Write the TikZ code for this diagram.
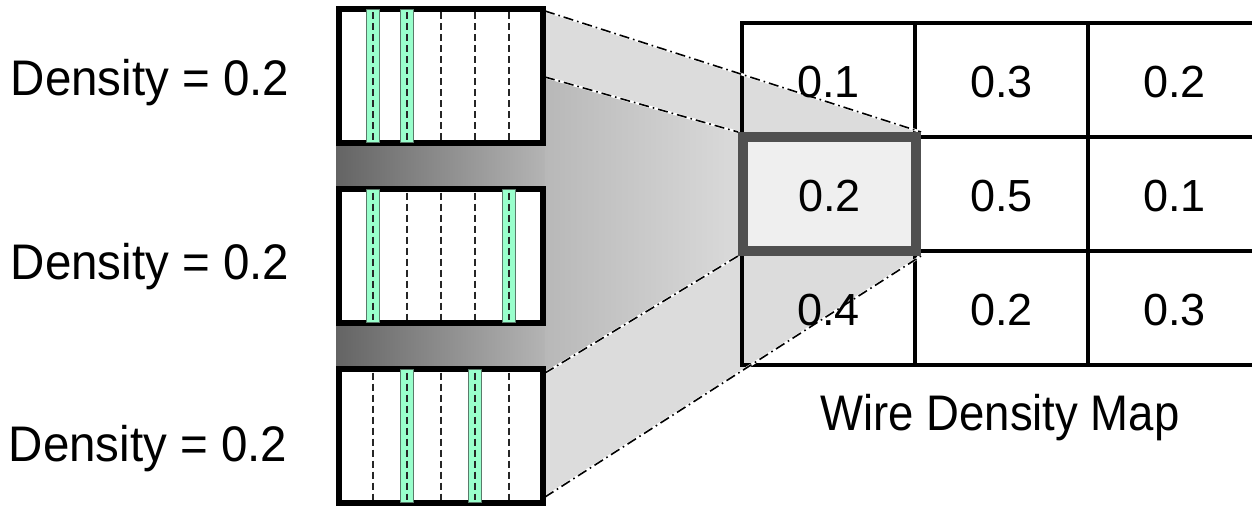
\documentclass[tikz,border=0pt]{standalone}
\usepackage{fontspec}
\setmainfont{Liberation Sans}
\definecolor{bandL}{HTML}{646464}
\definecolor{bandR}{HTML}{B4B4B4}
\definecolor{sideL}{HTML}{B8B8B8}
\definecolor{sideR}{HTML}{DADADA}
\definecolor{facegray}{HTML}{DCDCDC}
\definecolor{wiregreen}{HTML}{99FFCC}
\definecolor{greenedge}{HTML}{5A7A6A}
\definecolor{hiborder}{HTML}{505050}
\definecolor{hifill}{HTML}{EFEFEF}
\begin{document}
\begin{tikzpicture}[x=0.5pt,y=-0.5pt,
  wirebox/.style={draw=black,line width=3pt,fill=white,minimum width=101.75pt,minimum height=67pt,inner sep=0pt},
  wirefill/.style={fill=wiregreen,draw=greenedge,line width=0.35pt},
  wiredash/.style={draw=black!85,line width=1pt,dash pattern=on 3.5pt off 2pt},
  cell/.style={draw=black,line width=2pt,minimum width=86.5pt,minimum height=57pt,inner sep=0pt},
  hicell/.style={draw=hiborder,fill=hifill,line width=5pt,minimum width=86.5pt,minimum height=57pt,inner sep=0pt},
  num/.style={font=\fontsize{22.5}{24}\selectfont,inner sep=0pt},
  label/.style={font=\fontsize{25}{28}\selectfont,inner sep=0pt,anchor=base},
  projhalo/.style={draw=white,line width=1.2pt},
  projline/.style={draw=black,line width=0.8pt,dash pattern=on 5pt off 2pt on 0.8pt off 2pt},
]
\useasboundingbox (0,0) rectangle (1252,505);

% highlighted map cell (placed first so its anchors exist; redrawn on top later)
\path (829.5,194) node[hicell,draw=none,fill=none] (hl) {};

% anchor points on the right edges of the wire boxes
\coordinate (a1) at (545,11);
\coordinate (a2) at (545,77);
\coordinate (a3) at (545,373);
\coordinate (a4) at (545,497);

% shaded band behind the stack of boxes
\shade[left color=bandL,right color=bandR] (336,140) rectangle (545,372);
% shaded side of the projection
\shade[left color=sideL,right color=sideR] (a2) -- (hl.north west) -- (hl.south west) -- (a3) -- cycle;
% flat top and bottom faces of the projection
\fill[facegray] (a1) -- (hl.north east) -- (hl.north west) -- (a2) -- cycle;
\fill[facegray] (a3) -- (hl.south west) -- (hl.south east) -- (a4) -- cycle;

% wire density map grid
\foreach \r/\cy in {1/79.5,2/194,3/308} {
  \foreach \c/\cx in {1/828.5,2/1001.5,3/1174.5} {
    \node[cell] (c\r\c) at (\cx,\cy) {};
  }
}

% projection lines
\foreach \s/\e in {a1/hl.north east,a2/hl.north west,a3/hl.south west,a4/hl.south east} {
  \draw[projhalo] (\s) -- (\e);
  \draw[projline] (\s) -- (\e);
}

% highlighted cell
\node[hicell] (hlcell) at (hl) {};

% cell values
\node[num] (n11) at (828.5,82) {0.1};
\node[num] (n12) at (1001.5,82) {0.3};
\node[num] (n13) at (1174.5,82) {0.2};
\node[num] (n21) at (829.5,196) {0.2};
\node[num] (n22) at (1001.5,196) {0.5};
\node[num] (n23) at (1174.5,196) {0.1};
\node[num] (n31) at (828.5,310) {0.4};
\node[num] (n32) at (1001.5,310) {0.2};
\node[num] (n33) at (1174.5,310) {0.3};

\node[label,xscale=0.91] (title) at (1000,430) {Wire Density Map};

% wire boxes: six tracks each, two of them occupied
\foreach \nm/\cy/\ga/\gb in {b1/75.75/1/2, b2/256/1/5, b3/436/2/4} {
  \node[wirebox] (\nm) at (440.75,\cy) {};
  \foreach \k in {\ga,\gb} {
    \filldraw[wirefill] ({339+\k*33.92-6.5},{\cy-66.5}) rectangle ({339+\k*33.92+6.5},{\cy+66.5});
  }
  \foreach \k in {1,...,5} {
    \draw[wiredash] ({339+\k*33.92},{\cy-63.5}) -- ({339+\k*33.92},{\cy+64});
  }
}

% density labels
\node[label,xscale=0.95] (d1) at (150,95) {Density = 0.2};
\node[label,xscale=0.95] (d2) at (150,279) {Density = 0.2};
\node[label,xscale=0.95] (d3) at (148,461) {Density = 0.2};
\end{tikzpicture}
\end{document}
